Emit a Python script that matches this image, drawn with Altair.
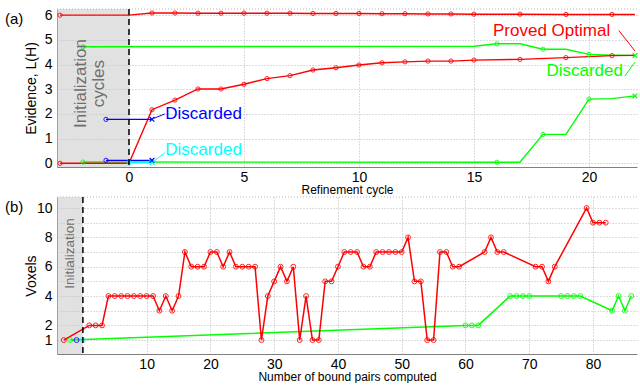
import altair as alt
import pandas as pd

FONT = "Liberation Sans"
RED, GREEN, BLUE, CYAN = "#ff0000", "#00ff00", "#0000ff", "#00ffff"
GRAYTXT = "#6e6e6e"
GRIDC = "#b8b8b8"

# ---------------- Panel (a): Evidence vs refinement cycle ----------------
a_red_top_x = [-3, 0, 1, 2, 3, 4, 5, 6, 7, 8, 9, 10, 11, 12, 13, 14, 15, 17, 19, 21, 22]
a_red_top_y = [6.0, 6.0, 6.09, 6.09, 6.08, 6.08, 6.08, 6.08, 6.08, 6.07, 6.07, 6.07, 6.06,
               6.06, 6.05, 6.05, 6.04, 6.04, 6.03, 6.03, 6.03]
a_red_top_m = ["o", "", "o", "o", "o", "o", "o", "o", "o", "o", "o", "o", "o", "o", "o",
               "o", "o", "o", "o", "o", ""]

a_red_mid_x = [-3, 0, 1, 2, 3, 4, 5, 6, 7, 8, 9, 10, 11, 12, 13, 14, 15, 17, 19, 21, 22]
a_red_mid_y = [0.0, 0.0, 2.17, 2.56, 3.01, 3.01, 3.2, 3.43, 3.55, 3.78, 3.87, 3.98, 4.07,
               4.11, 4.14, 4.14, 4.18, 4.21, 4.28, 4.36, 4.37]
a_red_mid_m = ["o", "", "o", "o", "o", "o", "o", "o", "o", "o", "o", "o", "o", "o", "o",
               "o", "o", "o", "o", "o", ""]

a_green_top_x = [-2, 15, 16, 17, 18, 19, 20, 21, 22]
a_green_top_y = [4.72, 4.74, 4.84, 4.84, 4.62, 4.62, 4.41, 4.38, 4.37]
a_green_top_m = ["o", "", "o", "", "o", "", "o", "", "x"]

a_green_bot_x = [-2, 16, 17, 18, 19, 20, 21, 22]
a_green_bot_y = [0.05, 0.04, 0.04, 1.17, 1.17, 2.6, 2.62, 2.73]
a_green_bot_m = ["o", "o", "", "o", "", "o", "", "x"]

a_blue_top_x = [-1, 1]
a_blue_top_y = [1.78, 1.78]
a_blue_bot_x = [-1, 1]
a_blue_bot_y = [0.12, 0.12]
a_cyan_x = [0, 1]
a_cyan_y = [0.03, 0.03]
a_end_m = ["o", "x"]

# annotations (a)
a_ann_text = ["Discarded", "Discarded", "Proved Optimal", "Discarded"]
a_ann_color = [BLUE, CYAN, RED, GREEN]
a_ann_x = [1.58, 1.58, 15.83, 18.15]
a_ann_y = [2.0, 0.54, 5.36, 3.74]
a_lead_x = [1.08, 1.06, 21.3, 21.56]
a_lead_y = [1.82, 0.07, 5.38, 3.53]
a_lead_x2 = [1.56, 1.56, 22.0, 22.0]
a_lead_y2 = [2.0, 0.43, 4.55, 4.1]

# ---------------- Panel (b): Voxels vs bound pairs ----------------
b_red_x = [-3, 1, 2, 3, 4, 5, 6, 7, 8, 9, 10, 11, 12, 13, 14, 15, 16, 17, 18, 19, 20,
           21, 22, 23, 24, 25, 26, 27, 28, 29, 30, 31, 32, 33, 34, 35, 36, 37, 38, 39,
           40, 41, 42, 43, 44, 45, 46, 47, 48, 49, 50, 51, 52, 53, 54, 55, 56, 57, 58,
           59, 63, 64, 65, 66, 71, 72, 73, 74, 79, 80, 81, 82]
b_red_y = [1, 2, 2, 2, 4, 4, 4, 4, 4, 4, 4, 4, 3, 4, 3, 4, 7, 6, 6, 6, 7,
           7, 6, 7, 6, 6, 6, 6, 1, 4, 5, 6, 5, 6, 1, 4, 1, 1, 5, 5,
           6, 7, 7, 7, 6, 6, 7, 7, 7, 7, 7, 8, 5, 5, 1, 1, 7, 7, 6,
           6, 7, 8, 7, 7, 6, 6, 5, 6, 10, 9, 9, 9]
b_green_x = [-2, 60, 61, 62, 67, 68, 69, 70, 75, 76, 77, 78, 83, 84, 85, 86]
b_green_y = [1, 2, 2, 2, 4, 4, 4, 4, 4, 4, 4, 4, 3, 4, 3, 4]
b_blue_x = [-1]
b_blue_y = [1]
b_cyan_x = [0]
b_cyan_y = [1]


def rows(name, color, xs, ys, ms):
    return [dict(series=name, color=color, x=x, y=y, m=m, i=k)
            for k, (x, y, m) in enumerate(zip(xs, ys, ms))]


a_df = pd.DataFrame(
    rows("gb", GREEN, a_green_bot_x, a_green_bot_y, a_green_bot_m)
    + rows("gt", GREEN, a_green_top_x, a_green_top_y, a_green_top_m)
    + rows("rt", RED, a_red_top_x, a_red_top_y, a_red_top_m)
    + rows("rm", RED, a_red_mid_x, a_red_mid_y, a_red_mid_m)
    + rows("cy", CYAN, a_cyan_x, a_cyan_y, a_end_m)
    + rows("bt", BLUE, a_blue_top_x, a_blue_top_y, a_end_m)
    + rows("bb", BLUE, a_blue_bot_x, a_blue_bot_y, a_end_m)
)
b_df = pd.DataFrame(
    rows("g", GREEN, b_green_x, b_green_y, ["o"] * len(b_green_x))
    + rows("r", RED, b_red_x, b_red_y, ["o"] * len(b_red_x))
    + rows("b", BLUE, b_blue_x, b_blue_y, ["o"])
    + rows("c", CYAN, b_cyan_x, b_cyan_y, ["o"])
)
a_ann = pd.DataFrame(dict(text=a_ann_text, color=a_ann_color, x=a_ann_x, y=a_ann_y,
                          lx=a_lead_x, ly=a_lead_y, lx2=a_lead_x2, ly2=a_lead_y2))

W = 580
HA = 158
HB = 157
XPATH = "M-1,-1L1,1M-1,1L1,-1"


def panel(df, xdom, ydom, xvals, yvals, xtitle, ytitle, H, ylabexpr, msize, lw,
          init_text, init_x, init_y, init_size, tag, shade_lo, with_ann):
    xs = alt.Scale(domain=xdom, nice=False, zero=False)
    xa = alt.Axis(values=xvals, title=xtitle, titleFontSize=12,
                  titleBaseline="middle", titleY=22.5, labelPadding=3)
    yax = dict(values=yvals, title=ytitle, titleFontSize=14, titleX=-26,
               titleY=H / 2, titleBaseline="middle", labelPadding=5)
    if ylabexpr:
        yax["labelExpr"] = ylabexpr
    ys = alt.Scale(domain=ydom, nice=False, zero=False)
    ya = alt.Axis(**yax)
    xenc = alt.X("x:Q", scale=xs, axis=xa)
    yenc = alt.Y("y:Q", scale=ys, axis=ya)
    col = alt.Color("color:N", scale=None)

    shade = alt.Chart(pd.DataFrame({"x": [shade_lo], "x2": [0.0]})).mark_rect(
        color="#c4c4c4", opacity=0.5).encode(
        x=xenc, x2="x2:Q", y=alt.value(0), y2=alt.value(H))
    topline = alt.Chart(pd.DataFrame({"k": [0]})).mark_rule(
        color=GRIDC, strokeDash=[1, 2]).encode(
        x=alt.value(0), x2=alt.value(W), y=alt.value(0))
    lines = alt.Chart(df).mark_line(strokeWidth=lw).encode(
        x=xenc, y=yenc, color=col, detail="series:N", order="i:Q")
    circ = alt.Chart(df).transform_filter("datum.m == 'o'").mark_point(
        shape="circle", filled=False, size=msize, strokeWidth=1, opacity=0.85).encode(
        x=xenc, y=yenc, color=col)
    cross = alt.Chart(df).transform_filter("datum.m == 'x'").mark_point(
        shape=XPATH, filled=False, size=22, strokeWidth=1.2, opacity=1).encode(
        x=xenc, y=yenc, color=col)
    dash = alt.Chart(pd.DataFrame({"x": [0.0]})).mark_rule(
        color="black", strokeDash=[6, 4], strokeWidth=1.5).encode(
        x=xenc, y=alt.value(0), y2=alt.value(H))
    init = alt.Chart(pd.DataFrame({"x": [init_x], "y": [init_y], "t": [init_text]})).mark_text(
        angle=270, align="center", baseline="middle", fontSize=init_size, font=FONT,
        color=GRAYTXT, lineBreak="\n", lineHeight=init_size + 1).encode(
        x=xenc, y=yenc, text="t:N")
    lab = alt.Chart(pd.DataFrame({"t": [tag]})).mark_text(
        align="left", baseline="middle", fontSize=15, font=FONT, color="black").encode(
        x=alt.value(-52), y=alt.value(10), text="t:N")
    layers = [shade, topline, lines, circ, cross, dash, init, lab]
    if with_ann:
        lead = alt.Chart(a_ann).mark_rule(strokeWidth=1).encode(
            x=alt.X("lx:Q", scale=xs, axis=xa),
            y=alt.Y("ly:Q", scale=ys, axis=ya),
            x2="lx2:Q", y2="ly2:Q", color=col)
        txt = alt.Chart(a_ann).mark_text(
            align="left", baseline="middle", fontSize=17, font=FONT).encode(
            x=xenc, y=yenc, text="text:N", color=col)
        layers += [lead, txt]
    return alt.layer(*layers).properties(width=W, height=H)


pa = panel(a_df, [-3.13, 22.09], [-0.15, 6.25], [0, 5, 10, 15, 20], [0, 1, 2, 3, 4, 5, 6],
           "Refinement cycle", "Evidence, L(H)", HA, None, 18, 1.4,
           "Initialization\ncycles", -2.07, 3.23, 17, "(a)", -3.13, True)

pb = panel(b_df, [-4.06, 86.9], [0.05, 10.75], [10, 20, 30, 40, 50, 60, 70, 80],
           list(range(1, 11)), "Number of bound pairs computed", "Voxels", HB,
           "indexof([1,2,4,6,8,10], datum.value) >= 0 ? datum.label : ''", 24, 1.5,
           "Initialization", -2.0, 6.9, 13.5, "(b)", -4.06, False)

chart = alt.vconcat(pa, pb, spacing=0).properties(
    padding={"left": 5, "top": 8, "right": 0, "bottom": 0}
).configure_view(stroke=None).configure_axis(
    labelFont=FONT, titleFont=FONT, labelFontSize=14, titleFontWeight="normal",
    labelColor="black", titleColor="black", grid=True, gridColor=GRIDC,
    gridDash=[1, 2], gridWidth=1, domainColor="#808080", domainWidth=1, ticks=False
)

chart.save("out.html", embed_options={"renderer": "svg", "actions": False})
